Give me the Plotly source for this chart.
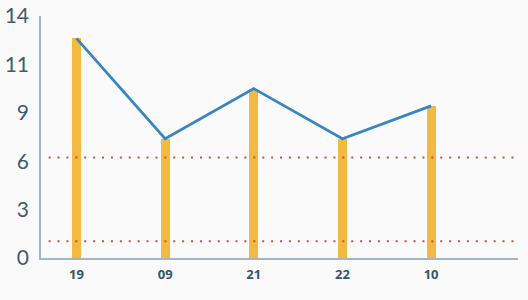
import plotly.graph_objects as go

categories = ["19", "09", "21", "22", "10"]
bar_values = [12.7, 6.9, 9.8, 6.9, 8.8]
line_values = [12.7, 6.9, 9.8, 6.9, 8.8]
ref_levels = [0.97, 5.82]
y_tickvals = [0, 2.8, 5.6, 8.4, 11.2, 14]
y_ticktext = ["0", "3", "6", "9", "11", "14"]

x = list(range(len(categories)))

fig = go.Figure()
fig.add_trace(go.Bar(x=x, y=bar_values, width=0.1, marker=dict(color="#f2b943", line=dict(width=0)),
                     hoverinfo="skip"))
fig.add_trace(go.Scatter(x=x, y=line_values, mode="lines", line=dict(color="#3a84c0", width=2.7),
                         hoverinfo="skip"))

for lv in ref_levels:
    fig.add_shape(type="line", xref="paper", x0=0.016, x1=0.995, yref="y", y0=lv, y1=lv,
                  line=dict(color="#d0512e", width=2, dash="2px,6.9px"), layer="above")

fig.update_layout(
    width=528, height=300,
    margin=dict(l=41, r=10, t=16, b=42),
    paper_bgcolor="#fafafa", plot_bgcolor="#fafafa",
    showlegend=False,
    bargap=0,
    xaxis=dict(range=[-0.4, 4.98], tickvals=x, ticktext=categories, showgrid=False, zeroline=False,
               showline=True, linecolor="#a3b6c1", linewidth=2, automargin=False,
               tickfont=dict(family="Open Sans", size=13, color="#35566b", weight="bold"),
               ticks="", ticklen=0, ticklabelstandoff=3),
    yaxis=dict(range=[0, 14], tickvals=y_tickvals, ticktext=y_ticktext, showgrid=False, zeroline=False,
               showline=True, linecolor="#a3b6c1", linewidth=1.5, automargin=False,
               tickfont=dict(family="Lato", size=21, color="#3f5b6e"),
               ticks="", ticklabelstandoff=6),
)

fig.write_html("out.html")
